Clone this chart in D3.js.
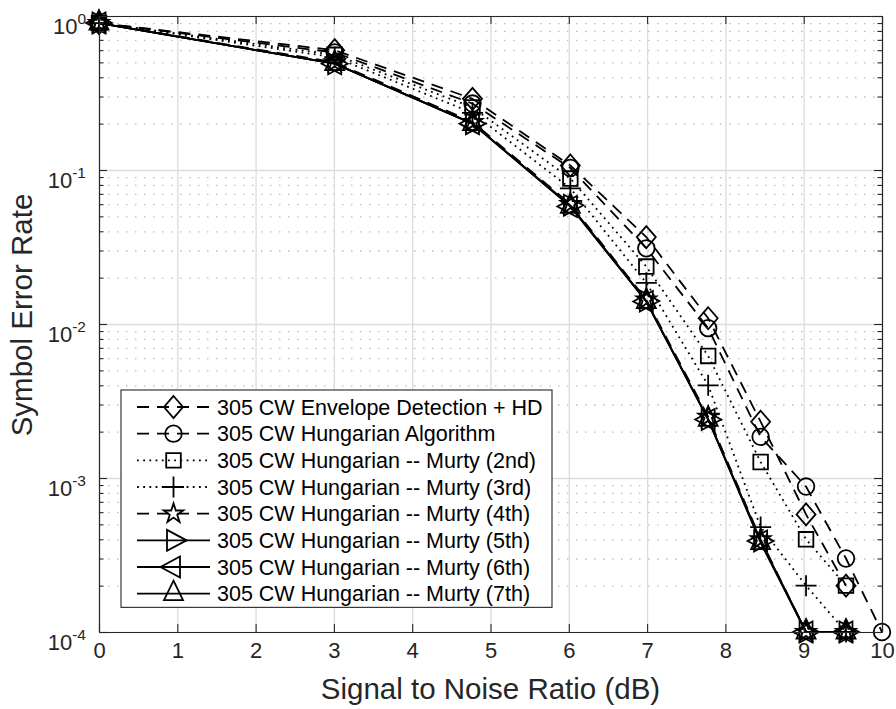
<!DOCTYPE html>
<html>
<head>
<meta charset="utf-8">
<script src="https://cdn.jsdelivr.net/npm/d3@7/dist/d3.min.js"></script>
<style>
  html, body { margin: 0; padding: 0; background: #fff; }
  svg { display: block; font-family: "Liberation Sans", Arial, Helvetica, sans-serif; }
</style>
</head>
<body>
<svg id="chart" width="896" height="709"></svg>
<script>
// SNR points (dB) shared by every curve
const snrDb = [0, 3.01, 4.77, 6.02, 6.99, 7.78, 8.45, 9.03, 9.54, 10];

// Symbol error rate per detector (null = no errors observed, not drawn)
const serEnvelopeHD = [0.9, 0.60, 0.29, 0.107, 0.0367, 0.0109, 0.00232, 0.00058, 0.0002, null];
const serHungarian  = [0.9, 0.58, 0.27, 0.103, 0.031, 0.0094, 0.00185, 0.00088, 0.0003, 0.0001];
const serMurty2     = [0.9, 0.56, 0.255, 0.088, 0.0236, 0.0062, 0.00127, 0.0004, 0.0002, null];
const serMurty3     = [0.9, 0.54, 0.235, 0.076, 0.0185, 0.0040, 0.00048, 0.0002, 0.0001, null];
const serMurty4     = [0.9, 0.50, 0.205, 0.060, 0.0144, 0.0025, 0.0004, 0.0001, 0.0001, null];
const serMurty5     = [0.9, 0.49, 0.20, 0.059, 0.0141, 0.0024, 0.00039, 0.0001, 0.0001, null];
const serMurty6     = [0.9, 0.49, 0.20, 0.058, 0.0140, 0.0024, 0.00039, 0.0001, 0.0001, null];
const serMurty7     = [0.9, 0.49, 0.20, 0.058, 0.0140, 0.0024, 0.00038, 0.0001, 0.0001, null];

const seriesLabels = [
  "305 CW Envelope Detection + HD",
  "305 CW Hungarian Algorithm",
  "305 CW Hungarian -- Murty (2nd)",
  "305 CW Hungarian -- Murty (3rd)",
  "305 CW Hungarian -- Murty (4th)",
  "305 CW Hungarian -- Murty (5th)",
  "305 CW Hungarian -- Murty (6th)",
  "305 CW Hungarian -- Murty (7th)"
];
const seriesValues = [serEnvelopeHD, serHungarian, serMurty2, serMurty3, serMurty4, serMurty5, serMurty6, serMurty7];
const seriesMarkers = ["diamond", "circle", "square", "plus", "pentagram", "triRight", "triLeft", "triUp"];
const seriesDash = ["dash", "dash", "dot", "dot", "dash", "solid", "solid", "solid"];

const xTicks = [0, 1, 2, 3, 4, 5, 6, 7, 8, 9, 10];
const yDecadeExponents = [0, -1, -2, -3, -4];

const xAxisTitle = "Signal to Noise Ratio (dB)";
const yAxisTitle = "Symbol Error Rate";

// ---- layout ----
const plot = { left: 99, right: 882, top: 16, bottom: 632 };
const axisColor = "#262626";
const tickFont = 22;
const legendFont = 21.5;
const titleFont = 29.5;
const lw = 1.8;

const svg = d3.select("#chart");
const x = d3.scaleLinear().domain([0, 10]).range([plot.left, plot.right]);
const y = d3.scaleLog().domain([1e-4, 1]).range([plot.bottom, plot.top]);

const yMajor = yDecadeExponents.map(e => Math.pow(10, e));
const yMinor = [];
for (let e = -4; e < 0; e++) for (let m = 2; m <= 9; m++) yMinor.push(m * Math.pow(10, e));

const W = plot.right - plot.left, H = plot.bottom - plot.top;

// ---- grid ----
const gridMinor = svg.append("g").attr("transform", `translate(${plot.left},0)`)
  .call(d3.axisLeft(y).tickValues(yMinor).tickSize(-W).tickFormat(""));
gridMinor.select(".domain").remove();
gridMinor.selectAll("line").attr("stroke", "#bdbdbd").attr("stroke-width", 1.3)
  .attr("stroke-dasharray", "1.5,7.5");

const gridY = svg.append("g").attr("transform", `translate(${plot.left},0)`)
  .call(d3.axisLeft(y).tickValues(yMajor).tickSize(-W).tickFormat(""));
gridY.select(".domain").remove();
gridY.selectAll("line").attr("stroke", "#dcdcdc").attr("stroke-width", 1.3);

const gridX = svg.append("g").attr("transform", `translate(0,${plot.bottom})`)
  .call(d3.axisBottom(x).tickValues(xTicks).tickSize(-H).tickFormat(""));
gridX.select(".domain").remove();
gridX.selectAll("line").attr("stroke", "#dcdcdc").attr("stroke-width", 1.3);

// ---- markers ----
function markerPath(type) {
  const p = d3.path();
  switch (type) {
    case "diamond": p.moveTo(0, -11); p.lineTo(9.5, 0); p.lineTo(0, 11); p.lineTo(-9.5, 0); p.closePath(); break;
    case "circle": p.arc(0, 0, 8.3, 0, 2 * Math.PI); p.closePath(); break;
    case "square": p.rect(-7.3, -7.3, 14.6, 14.6); break;
    case "plus": p.moveTo(-10.5, 0); p.lineTo(10.5, 0); p.moveTo(0, -10.5); p.lineTo(0, 10.5); break;
    case "pentagram": {
      const R = 10.3, r = R * 0.382;
      for (let i = 0; i < 10; i++) {
        const a = -Math.PI / 2 + i * Math.PI / 5, rr = i % 2 ? r : R;
        if (i === 0) p.moveTo(rr * Math.cos(a), rr * Math.sin(a)); else p.lineTo(rr * Math.cos(a), rr * Math.sin(a));
      }
      p.closePath(); break;
    }
    case "triUp": p.moveTo(0, -13); p.lineTo(9.5, 6.5); p.lineTo(-9.5, 6.5); p.closePath(); break;
    case "triRight": p.moveTo(13, 0); p.lineTo(-6.5, 10.5); p.lineTo(-6.5, -10.5); p.closePath(); break;
    case "triLeft": p.moveTo(-13, 0); p.lineTo(6.5, 10.5); p.lineTo(6.5, -10.5); p.closePath(); break;
  }
  return p.toString();
}
const dashArray = { solid: null, dash: "12,8", dot: "1.8,4.4" };

// ---- curves ----
const line = d3.line().defined(d => d[1] !== null).x(d => x(d[0])).y(d => y(d[1]));
const curves = svg.append("g");
seriesValues.forEach((vals, i) => {
  const pts = snrDb.map((s, k) => [s, vals[k]]);
  const g = curves.append("g");
  g.append("path").attr("d", line(pts)).attr("fill", "none").attr("stroke", "#000")
    .attr("stroke-width", lw).attr("stroke-dasharray", dashArray[seriesDash[i]]);
  g.selectAll("path.mk").data(pts.filter(d => d[1] !== null)).join("path").attr("class", "mk")
    .attr("transform", d => `translate(${x(d[0])},${y(d[1])})`)
    .attr("d", markerPath(seriesMarkers[i]))
    .attr("fill", "none").attr("stroke", "#000").attr("stroke-width", lw).attr("stroke-linejoin", "miter");
});

// ---- axes frame and ticks ----
const frame = svg.append("g");
const axB = frame.append("g").attr("transform", `translate(0,${plot.bottom})`)
  .call(d3.axisBottom(x).tickValues(xTicks).tickSizeInner(-8).tickSizeOuter(0).tickPadding(17).tickFormat(d3.format("d")));
axB.selectAll("text").attr("font-size", tickFont).attr("fill", axisColor).attr("dy", "0.71em").attr("y", 10);
const axT = frame.append("g").attr("transform", `translate(0,${plot.top})`)
  .call(d3.axisTop(x).tickValues(xTicks).tickSizeInner(-8).tickSizeOuter(0).tickFormat(""));

const axL = frame.append("g").attr("transform", `translate(${plot.left},0)`)
  .call(d3.axisLeft(y).tickValues(yMajor).tickSizeInner(-8).tickSizeOuter(0).tickPadding(13).tickFormat(""));
axL.selectAll(".tick text").each(function (d) {
  const t = d3.select(this).attr("dy", null).attr("y", 17).attr("fill", axisColor).attr("font-size", tickFont);
  t.append("tspan").text("10");
  t.append("tspan").attr("dy", -10).attr("font-size", 15.5).text(Math.round(Math.log10(d)));
});
const axLm = frame.append("g").attr("transform", `translate(${plot.left},0)`)
  .call(d3.axisLeft(y).tickValues(yMinor).tickSizeInner(-4.5).tickSizeOuter(0).tickFormat(""));
const axR = frame.append("g").attr("transform", `translate(${plot.right},0)`)
  .call(d3.axisRight(y).tickValues(yMajor).tickSizeInner(-8).tickSizeOuter(0).tickFormat(""));
const axRm = frame.append("g").attr("transform", `translate(${plot.right},0)`)
  .call(d3.axisRight(y).tickValues(yMinor).tickSizeInner(-4.5).tickSizeOuter(0).tickFormat(""));
[axB, axT, axL, axLm, axR, axRm].forEach(a => {
  a.selectAll(".domain").attr("stroke", axisColor).attr("stroke-width", 1.1);
  a.selectAll(".tick line").attr("stroke", axisColor).attr("stroke-width", 1.1);
});

// ---- axis titles ----
svg.append("text").attr("x", (plot.left + plot.right) / 2).attr("y", 699)
  .attr("text-anchor", "middle").attr("font-size", titleFont).attr("fill", axisColor).text(xAxisTitle);
svg.append("text").attr("transform", `translate(32,315) rotate(-90)`)
  .attr("text-anchor", "middle").attr("font-size", titleFont).attr("fill", axisColor).text(yAxisTitle);

// ---- legend ----
const leg = { left: 121, top: 390, right: 552, rowH: 26.67 };
const legG = svg.append("g");
legG.append("rect").attr("x", leg.left).attr("y", leg.top)
  .attr("width", leg.right - leg.left).attr("height", leg.rowH * seriesLabels.length + 4)
  .attr("fill", "#fff").attr("stroke", axisColor).attr("stroke-width", 1.1);
seriesLabels.forEach((lab, i) => {
  const cy = leg.top + 17 + i * leg.rowH;
  const row = legG.append("g");
  row.append("path").attr("d", `M137,${cy}H210`).attr("fill", "none").attr("stroke", "#000")
    .attr("stroke-width", lw).attr("stroke-dasharray", dashArray[seriesDash[i]]);
  row.append("path").attr("transform", `translate(173.5,${cy})`).attr("d", markerPath(seriesMarkers[i]))
    .attr("fill", "none").attr("stroke", "#000").attr("stroke-width", lw);
  row.append("text").attr("x", 217).attr("y", cy + 7.7).attr("font-size", legendFont)
    .attr("fill", "#000").text(lab);
});
</script>
</body>
</html>
